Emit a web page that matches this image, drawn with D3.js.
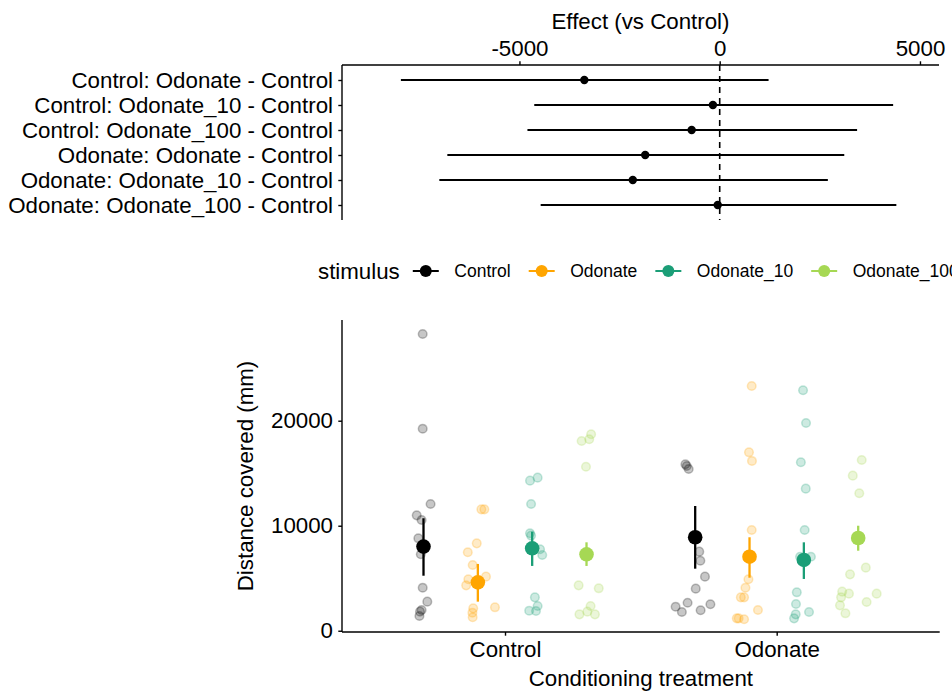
<!DOCTYPE html>
<html>
<head>
<meta charset="utf-8">
<script src="https://cdn.jsdelivr.net/npm/d3@7"></script>
<style>
  body { margin: 0; background: #fff; }
  svg { font-family: "Liberation Sans", Arial, sans-serif; }
  .axis path, .axis line { stroke: #000; stroke-width: 1.4; }
  .axis text { fill: #000; font-size: 22.3px; }
</style>
</head>
<body>
<div id="chart"></div>
<script>
// ---- top panel: contrasts vs Control ----
const contrastLabels = [
  "Control: Odonate - Control",
  "Control: Odonate_10 - Control",
  "Control: Odonate_100 - Control",
  "Odonate: Odonate - Control",
  "Odonate: Odonate_10 - Control",
  "Odonate: Odonate_100 - Control"
];
const contrastEst = [-3380, -170, -700, -1860, -2170, -50];
const contrastLo = [-7960, -4630, -4800, -6800, -7000, -4470];
const contrastHi = [1220, 4330, 3430, 3110, 2700, 4410];
const effectTicks = [-5000, 0, 5000];

// ---- bottom panel: distance covered ----
const conditions = ["Control", "Odonate"];
const stimuli = ["Control", "Odonate", "Odonate_10", "Odonate_100"];
const stimColors = ["#000000", "#FFA500", "#1B9E77", "#A6D854"];
const distanceTicks = [0, 10000, 20000];

// raw distances (mm), condition x stimulus
const dist_C_Control = [28260, 19240, 12070, 10990, 10550, 8800, 7280, 4100, 2770, 1980, 1820, 1400];
const dist_C_Odonate = [11560, 11560, 8320, 7470, 6260, 4900, 4320, 5150, 2130, 1720, 1280, 2230];
const dist_C_Odonate10 = [14290, 14580, 12070, 9280, 9060, 7760, 7210, 3180, 2360, 1910, 1880];
const dist_C_Odonate100 = [18710, 18070, 18230, 15620, 4320, 4040, 2360, 1560, 1820, 1560];
const dist_O_Control = [15850, 15690, 15400, 7530, 6670, 5150, 4010, 2670, 2290, 1780, 1950, 2520];
const dist_O_Odonate = [23310, 16990, 16170, 9590, 4900, 4100, 3180, 3180, 1980, 1180, 1180, 1090];
const dist_O_Odonate10 = [22900, 19780, 16040, 13530, 9590, 7050, 7050, 3660, 2550, 1780, 1560, 1180];
const dist_O_Odonate100 = [16260, 14770, 13090, 6010, 5370, 3530, 3720, 3530, 3180, 2420, 2740, 1660];

// horizontal jitter (fraction of one category step)
const jit_C_Control = [-0.003, -0.003, 0.026, -0.025, -0.007, -0.019, -0.010, -0.003, 0.014, -0.007, -0.013, -0.015];
const jit_C_Odonate = [0.013, 0.024, -0.004, -0.037, -0.019, -0.035, -0.043, 0.030, -0.017, -0.020, -0.019, 0.063];
const jit_C_Odonate10 = [-0.008, 0.020, -0.004, -0.008, -0.004, 0.029, 0.037, 0.010, 0.020, -0.011, 0.014];
const jit_C_Odonate100 = [0.017, -0.018, 0.010, -0.002, -0.029, 0.045, 0.015, -0.026, 0.003, 0.031];
const jit_O_Control = [-0.036, -0.031, -0.024, 0.015, 0.019, 0.036, 0.002, -0.028, -0.072, -0.049, 0.020, 0.056];
const jit_O_Odonate = [0.008, -0.002, 0.009, 0.008, -0.004, -0.015, -0.032, -0.020, 0.031, -0.047, -0.040, -0.020];
const jit_O_Odonate10 = [-0.003, 0.008, -0.011, 0.007, 0.003, -0.014, 0.026, -0.026, -0.029, 0.019, -0.030, -0.036];
const jit_O_Odonate100 = [0.013, -0.020, 0.004, 0.028, -0.030, 0.068, -0.059, -0.034, -0.063, -0.067, 0.031, -0.047];

// group means and intervals, [condition][stimulus]
const meanDist = [[8010, 4610, 7850, 7280], [8900, 7050, 6740, 8830]];
const lowerDist = [[5240, 2770, 6170, 6170], [5910, 5050, 4930, 7620]];
const upperDist = [[10710, 6360, 9430, 8420], [11880, 8900, 8420, 10000]];

const rawDist = [
  [dist_C_Control, dist_C_Odonate, dist_C_Odonate10, dist_C_Odonate100],
  [dist_O_Control, dist_O_Odonate, dist_O_Odonate10, dist_O_Odonate100]
];
const rawJit = [
  [jit_C_Control, jit_C_Odonate, jit_C_Odonate10, jit_C_Odonate100],
  [jit_O_Control, jit_O_Odonate, jit_O_Odonate10, jit_O_Odonate100]
];

const width = 952, height = 695;
const svg = d3.select("#chart").append("svg")
  .attr("width", width).attr("height", height);

/* ===== TOP PANEL ===== */
const topP = { left: 342, right: 939, top: 65, bottom: 220 };

const xEff = d3.scaleLinear().domain([-9430, 5475]).range([topP.left, topP.right]);
const yEff = d3.scalePoint().domain(contrastLabels).range([topP.top, topP.bottom]).padding(0.6);

svg.append("g")
  .attr("class", "axis")
  .attr("transform", `translate(0,${topP.top})`)
  .call(d3.axisTop(xEff).tickValues(effectTicks).tickFormat(d => String(d))
    .tickSize(3.7).tickPadding(5.3).tickSizeOuter(0))
  .call(g => g.select(".domain").attr("d", `M${topP.left},0H${topP.right}`));

svg.append("g")
  .attr("class", "axis")
  .attr("transform", `translate(${topP.left},0)`)
  .call(d3.axisLeft(yEff).tickSize(3.7).tickPadding(5.3).tickSizeOuter(0))
  .call(g => g.select(".domain").attr("d", `M0,${topP.top}V${topP.bottom}`));

svg.append("text")
  .attr("x", (topP.left + topP.right) / 2).attr("y", 29)
  .attr("text-anchor", "middle").attr("font-size", 22.3)
  .text("Effect (vs Control)");

// zero line
svg.append("line")
  .attr("x1", xEff(0)).attr("x2", xEff(0))
  .attr("y1", topP.top).attr("y2", topP.bottom)
  .attr("stroke", "#000").attr("stroke-width", 1.6)
  .attr("stroke-dasharray", "6,5");

const rows = contrastLabels.map((lab, i) => ({
  lab, est: contrastEst[i], lo: contrastLo[i], hi: contrastHi[i]
}));

svg.append("g").selectAll("line")
  .data(rows).join("line")
  .attr("x1", d => xEff(d.lo)).attr("x2", d => xEff(d.hi))
  .attr("y1", d => yEff(d.lab)).attr("y2", d => yEff(d.lab))
  .attr("stroke", "#000").attr("stroke-width", 2);

svg.append("g").selectAll("circle")
  .data(rows).join("circle")
  .attr("cx", d => xEff(d.est)).attr("cy", d => yEff(d.lab))
  .attr("r", 4.2).attr("fill", "#000");

/* ===== LEGEND ===== */
const legY = 271;
const leg = svg.append("g");
const legTitle = leg.append("text")
  .attr("x", 318).attr("y", legY + 8)
  .attr("font-size", 22.3).text("stimulus");

let cursor = 318 + legTitle.node().getComputedTextLength() + 13;
stimuli.forEach((s, i) => {
  const cx = cursor + 13;
  leg.append("line")
    .attr("x1", cx - 13).attr("x2", cx + 13)
    .attr("y1", legY).attr("y2", legY)
    .attr("stroke", stimColors[i]).attr("stroke-width", 2);
  leg.append("circle")
    .attr("cx", cx).attr("cy", legY).attr("r", 6)
    .attr("fill", stimColors[i]);
  const t = leg.append("text")
    .attr("x", cx + 28.5).attr("y", legY + 6)
    .attr("font-size", 17.5).text(s);
  cursor = cx + 28.5 + t.node().getComputedTextLength() + 18;
});

/* ===== BOTTOM PANEL ===== */
const bot = { left: 342, right: 939.7, top: 320, bottom: 632 };

const xCond = d3.scalePoint().domain(conditions).range([bot.left, bot.right]).padding(0.6);
const step = xCond.step();
const dodge = d3.scalePoint().domain(stimuli).range([-0.3, 0.3]);
const yDist = d3.scaleLinear().domain([-120, 29590]).range([bot.bottom, bot.top]);

svg.append("g")
  .attr("class", "axis")
  .attr("transform", `translate(0,${bot.bottom})`)
  .call(d3.axisBottom(xCond).tickSize(3.7).tickPadding(5.3).tickSizeOuter(0))
  .call(g => g.select(".domain").attr("d", `M${bot.left},0H${bot.right}`));

svg.append("g")
  .attr("class", "axis")
  .attr("transform", `translate(${bot.left},0)`)
  .call(d3.axisLeft(yDist).tickValues(distanceTicks).tickFormat(d => String(d))
    .tickSize(3.7).tickPadding(5.3).tickSizeOuter(0))
  .call(g => g.select(".domain").attr("d", `M0,${bot.top}V${bot.bottom}`));

svg.append("text")
  .attr("transform", `translate(253,${(bot.top + bot.bottom) / 2}) rotate(-90)`)
  .attr("text-anchor", "middle").attr("font-size", 22.3)
  .text("Distance covered (mm)");

svg.append("text")
  .attr("x", (bot.left + bot.right) / 2).attr("y", 686)
  .attr("text-anchor", "middle").attr("font-size", 22.3)
  .text("Conditioning treatment");

// raw points
const pts = [];
conditions.forEach((c, ci) => stimuli.forEach((s, si) => {
  rawDist[ci][si].forEach((v, k) => pts.push({ c, s, si, v, j: rawJit[ci][si][k] }));
}));

svg.append("g").selectAll("circle")
  .data(pts).join("circle")
  .attr("cx", d => xCond(d.c) + (dodge(d.s) + d.j) * step)
  .attr("cy", d => yDist(d.v))
  .attr("r", 4.3)
  .attr("fill", d => stimColors[d.si]).attr("fill-opacity", 0.22)
  .attr("stroke", d => stimColors[d.si]).attr("stroke-opacity", 0.25)
  .attr("stroke-width", 1.5);

// means with intervals
const means = [];
conditions.forEach((c, ci) => stimuli.forEach((s, si) => {
  means.push({ c, s, si, m: meanDist[ci][si], lo: lowerDist[ci][si], hi: upperDist[ci][si] });
}));

const mg = svg.append("g");
mg.selectAll("line")
  .data(means).join("line")
  .attr("x1", d => xCond(d.c) + dodge(d.s) * step)
  .attr("x2", d => xCond(d.c) + dodge(d.s) * step)
  .attr("y1", d => yDist(d.lo)).attr("y2", d => yDist(d.hi))
  .attr("stroke", d => stimColors[d.si]).attr("stroke-width", 2.3);

mg.selectAll("circle")
  .data(means).join("circle")
  .attr("cx", d => xCond(d.c) + dodge(d.s) * step)
  .attr("cy", d => yDist(d.m))
  .attr("r", 7.3)
  .attr("fill", d => stimColors[d.si]);
</script>
</body>
</html>
